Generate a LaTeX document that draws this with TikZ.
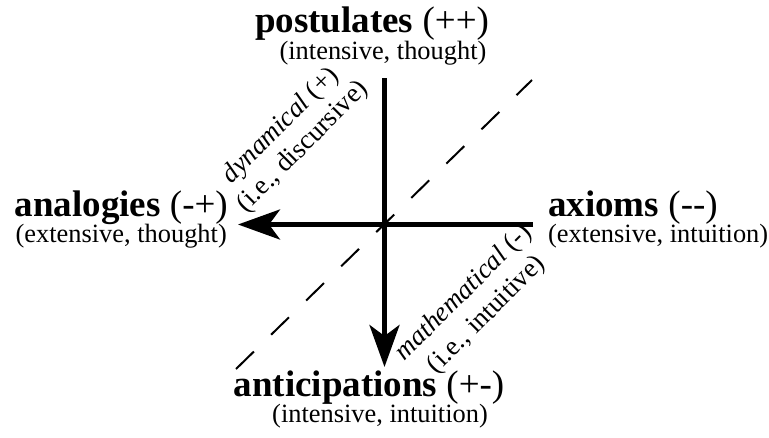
\documentclass[tikz,border=0pt]{standalone}
\usepackage{fontspec}
\setmainfont{Liberation Serif}
\usepackage{tikz}
\usetikzlibrary{arrows.meta, positioning}

\begin{document}
\begin{tikzpicture}[x=1pt, y=-1pt,
  ttl/.style={inner sep=0pt, font=\fontsize{37}{40}\selectfont},
  sub/.style={inner sep=0pt, font=\fontsize{26.4}{30}\selectfont},
  diag/.style={inner sep=0pt, rotate=45, font=\fontsize{27}{30}\selectfont},
  axis/.style={-{Stealth[length=42pt, width=30pt, inset=11pt]}, line width=5pt},
  divide/.style={line width=2pt, dash pattern=on 25pt off 24pt}
]
\useasboundingbox (0,0) rectangle (769,437);

\node[ttl, anchor=base] (post) at (372,32) {\textbf{postulates} (++)};
\node[sub, anchor=base] (postsub) at (383,59) {(intensive, thought)};
\node[ttl, anchor=base east] (ana) at (228,216) {\textbf{analogies} (-+)};
\node[sub, anchor=base east] (anasub) at (227,242) {(extensive, thought)};
\node[ttl, anchor=base west] (axi) at (548,216) {\textbf{axioms} (-{}-)};
\node[sub, anchor=base west] (axisub) at (548,242) {(extensive, intuition)};
\node[ttl, anchor=base] (anti) at (369,396) {\textbf{anticipations} (+-)};
\node[sub, anchor=base] (antisub) at (380,422) {(intensive, intuition)};

\coordinate (n) at (384.5,78);
\coordinate (s) at (384.5,367);
\coordinate (e) at (533,224.5);
\coordinate (w) at (238,224.5);
\draw[axis] (n) -- (s);
\draw[axis] (e) -- (w);

\coordinate (dl) at (236,369);
\coordinate (du) at (532,80);
\draw[divide] (dl) -- (du);

\node[diag] (dyn) at (281,126) {\textit{dynamical} (+)};
\node[diag] (disc) at (303,147) {(i.e., discursive)};
\node[diag] (math) at (464,293) {\textit{mathematical} (-)};
\node[diag] (intu) at (487,315) {(i.e., intuitive)};
\end{tikzpicture}
\end{document}
